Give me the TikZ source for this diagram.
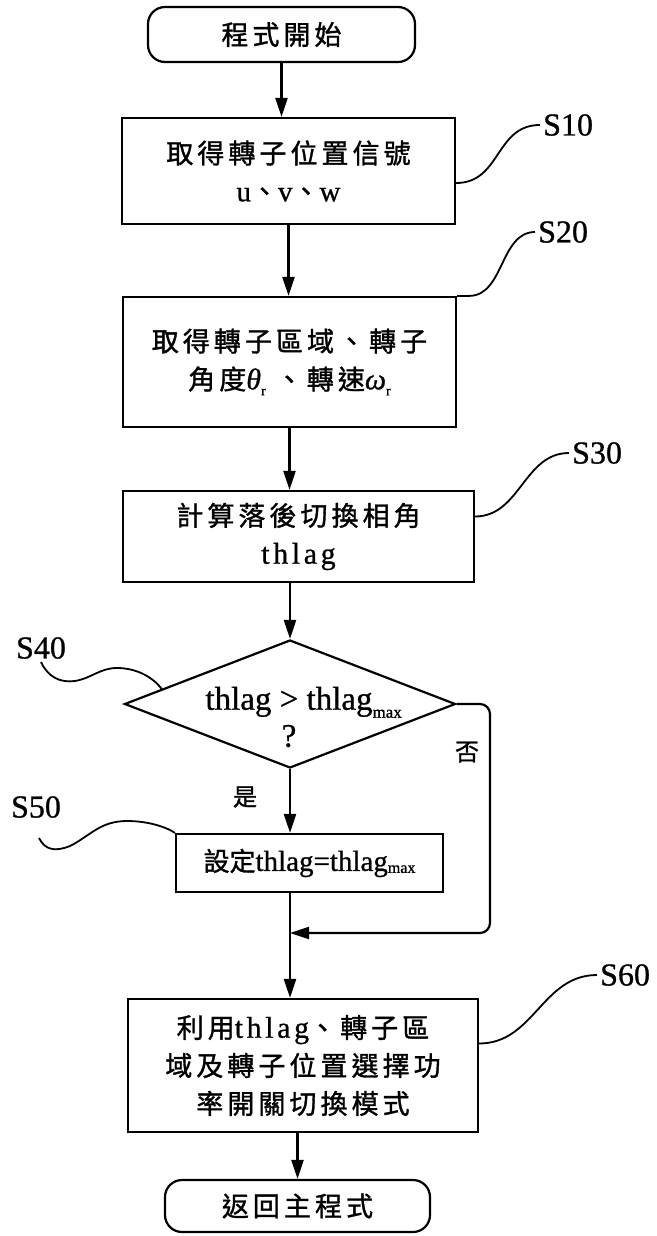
\documentclass[tikz,border=0pt]{standalone}
\usepackage{fontspec}
\setmainfont{Liberation Serif}[FakeBold=0.8]
\newfontfamily\cjk[LetterSpace=15,FakeBold=1.2]{Noto Sans CJK TC}
\newfontfamily\cjkn[FakeBold=1.2]{Noto Sans CJK TC}
\newfontfamily\lat[LetterSpace=12,FakeBold=0.8]{Liberation Serif}
\newfontfamily\grk[FakeBold=0.8]{Liberation Serif Italic}
\usetikzlibrary{shapes.geometric,arrows.meta,calc}
\tikzset{
  box/.style={draw, line width=2.2pt, rectangle, inner sep=0pt, align=center, font=\cjk\fontsize{27}{38}\selectfont},
  term/.style={box, rounded corners=17pt},
  dia/.style={draw, line width=2.2pt, diamond, inner sep=0pt},
  arr/.style={line width=2.2pt, -{Triangle[length=19pt,width=12pt]}},
  lead/.style={line width=1.8pt},
  slabel/.style={font=\fontsize{32}{32}\selectfont, inner sep=3pt},
  yn/.style={font=\cjkn\fontsize{24}{24}\selectfont, inner sep=0pt},
}
\begin{document}
\begin{tikzpicture}[x=1pt,y=-1pt]
\fill[white] (0,0) rectangle (656,1236);
\useasboundingbox (0,0) rectangle (656,1236);

% nodes
\node[term, minimum width=267pt, minimum height=55pt] (start) at (281.5,34.5) {程式開始};
\node[box, minimum width=333pt, minimum height=106pt] (s10) at (288.5,171) {取得轉子位置信號\\{\lat\fontsize{29}{38}\selectfont u}、{\lat\fontsize{29}{38}\selectfont v}、{\lat\fontsize{29}{38}\selectfont w}};
\node[box, minimum width=333pt, minimum height=130pt] (s20) at (289.5,362) {取得轉子區域、轉子\\角度{\grk\fontsize{30}{38}\selectfont θ}{\rmfamily\fontsize{14}{14}\selectfont\raisebox{-6pt}{r}}\ 、轉速{\grk\fontsize{30}{38}\selectfont ω}{\rmfamily\fontsize{14}{14}\selectfont\raisebox{-6pt}{r}}};
\node[box, minimum width=351pt, minimum height=91pt] (s30) at (298.5,536.5) {計算落後切換相角\\{\lat\fontsize{30}{38}\selectfont thlag}};
\node[dia, minimum width=331pt, minimum height=128pt] (d) at (290,704) {};
\node[font=\fontsize{33}{37}\selectfont, align=center, inner sep=0pt] (dtext) at (289,717) {thlag > thlag\rlap{\raisebox{-8pt}{\fontsize{17}{17}\selectfont max}}\\?};
\node[box, font=\fontsize{29}{30}\selectfont, minimum width=267pt, minimum height=58pt] (s50) at (309.5,863) {{\cjkn\fontsize{26}{30}\selectfont 設定}thlag=thlag\raisebox{-2pt}{\fontsize{16}{16}\selectfont max}};
\node[box, minimum width=350pt, minimum height=133pt] (s60) at (303,1065.5) {利用{\lat\fontsize{30}{38}\selectfont thlag}、轉子區\\域及轉子位置選擇功\\率開關切換模式};
\node[term, minimum width=265pt, minimum height=52pt] (stop) at (297.5,1206) {返回主程式};

% yes / no
\node[yn] (no) at (467,752) {否};
\node[yn] (yes) at (245,797) {是};

% step labels
\node[slabel, anchor=west] (l10) at (540,125) {S10};
\node[slabel, anchor=west] (l20) at (535,232) {S20};
\node[slabel, anchor=west] (l30) at (569,453) {S30};
\node[slabel] (l40) at (41,648) {S40};
\node[slabel] (l50) at (36,807) {S50};
\node[slabel, anchor=west] (l60) at (597,975) {S60};
\coordinate (c50) at (39,838);

% arrows
\draw[arr] (start.south) -- (start.south |- s10.north);
\draw[arr] (s10.south) -- (s10.south |- s20.north);
\draw[arr] (s20.south) -- (s20.south |- s30.north);
\draw[arr] (d.north |- s30.south) -- (d.north);
\draw[arr] (d.south) -- (d.south |- s50.north);
\draw[arr] (d.south |- s50.south) -- (d.south |- s60.north);
\coordinate (nob) at (490,933);
\draw[arr, rounded corners=10pt] (d.east) -| (nob) -- (d.south |- nob);
\draw[arr] (stop.north |- s60.south) -- (stop.north);

% leaders
\draw[lead] ([yshift=-12pt]s10.east) .. controls +(45,0) and +(-45,0) .. (l10.west);
\draw[lead] (s20.north east) -- ++(12,0) .. controls +(35,0) and +(-35,0) .. (l20.west);
\draw[lead] ([yshift=20pt]s30.east) .. controls +(45,0) and +(-45,0) .. (l30.west);
\draw[lead] (l40.south) .. controls +(7,15) and (60,683) .. (75,681) .. controls (92,678) and (100,668) .. (117,668) .. controls (135,668) and (152,676) .. ($(d.west)!0.23!(d.north)$);
\draw[lead] (c50) .. controls (45,850) and (55,852) .. (70,846) .. controls (90,836) and (100,821) .. (127,821) .. controls (150,821) and (168,828) .. (s50.north west);
\draw[lead] ([yshift=22pt]s60.east) .. controls +(55,0) and +(-55,0) .. (l60.west);
\end{tikzpicture}
\end{document}
